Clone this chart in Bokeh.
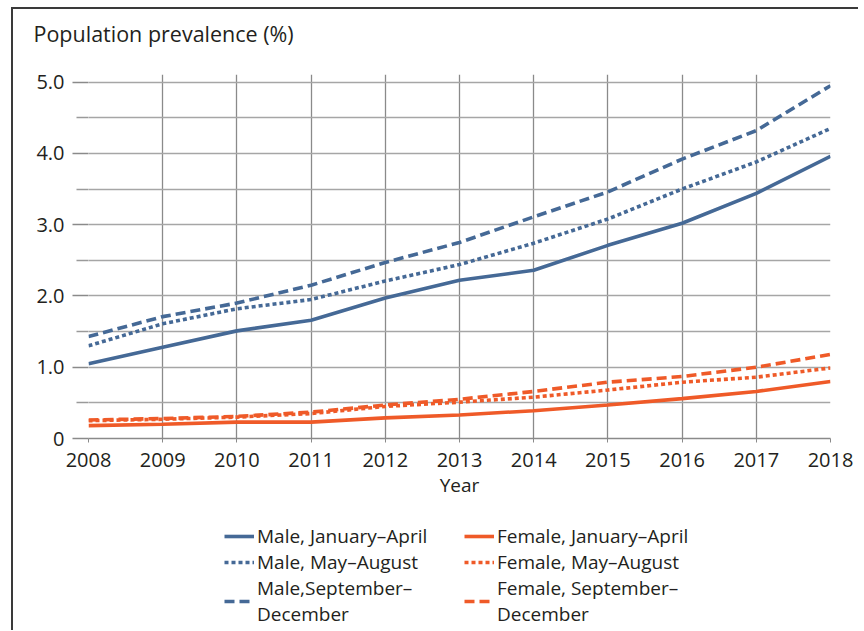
from bokeh.plotting import figure
from bokeh.layouts import column
from bokeh.models import FixedTicker, Range1d, Legend, LegendItem, PrintfTickFormatter
from bokeh.embed import file_html
from bokeh.resources import INLINE

years = list(range(2008, 2019))
male_jan_apr = [1.05, 1.28, 1.51, 1.66, 1.97, 2.22, 2.36, 2.71, 3.02, 3.44, 3.96]
male_may_aug = [1.30, 1.61, 1.82, 1.95, 2.21, 2.44, 2.74, 3.08, 3.50, 3.88, 4.35]
male_sep_dec = [1.43, 1.71, 1.90, 2.15, 2.47, 2.75, 3.11, 3.46, 3.92, 4.32, 4.95]
female_jan_apr = [0.18, 0.20, 0.23, 0.23, 0.29, 0.33, 0.39, 0.47, 0.56, 0.66, 0.80]
female_may_aug = [0.25, 0.27, 0.30, 0.35, 0.45, 0.51, 0.58, 0.68, 0.79, 0.86, 0.99]
female_sep_dec = [0.26, 0.28, 0.31, 0.37, 0.47, 0.55, 0.66, 0.79, 0.87, 1.00, 1.18]
y_ticks = [0, 1, 2, 3, 4, 5]
y_minor = [0.5, 1.5, 2.5, 3.5, 4.5]

labels = ["Male, January\u2013April", "Male, May\u2013August", "Male,September\u2013\nDecember",
          "Female, January\u2013April", "Female, May\u2013August", "Female, September\u2013\nDecember"]
dashes = ["solid", "4 3", "10 5", "solid", "4 3", "10 5"]

BLUE = "#456996"
ORANGE = "#ef5a28"
colors = [BLUE, BLUE, BLUE, ORANGE, ORANGE, ORANGE]
FONT = "Open Sans"
TXT = "#231f20"
LW = 3.6

# title strip
p0 = figure(width=845, height=46, output_backend="svg", toolbar_location=None,
            x_range=Range1d(0, 1), y_range=Range1d(0, 1), x_axis_type=None, y_axis_type=None,
            min_border_left=75, min_border_right=28, min_border_top=45, min_border_bottom=0)
p0.outline_line_color = None
p0.grid.visible = False
p0.title.text = "Population prevalence (%)"
p0.title.align = "left"
p0.title.vertical_align = "bottom"
p0.title.offset = -55
p0.title.standoff = 14
p0.title.text_font = FONT
p0.title.text_font_size = "21.5px"
p0.title.text_font_style = "normal"
p0.title.text_color = TXT

p = figure(width=845, height=455, output_backend="svg", toolbar_location=None,
           x_range=Range1d(2008, 2018), y_range=Range1d(0, 5.107),
           min_border_left=75, min_border_right=28, min_border_top=19, min_border_bottom=72)
p.outline_line_color = None
p.background_fill_color = "white"
p.title.text = ""

# axes
p.xaxis.ticker = FixedTicker(ticks=years)
p.xaxis.axis_label = "Year"
p.xaxis.axis_label_text_font = FONT
p.xaxis.axis_label_text_font_size = "19px"
p.xaxis.axis_label_text_font_style = "normal"
p.xaxis.axis_label_text_color = TXT
p.xaxis.axis_label_standoff = 2
p.xaxis.major_label_text_font = FONT
p.xaxis.major_label_text_font_size = "20px"
p.xaxis.major_label_text_color = TXT
p.xaxis.major_label_standoff = 10
p.xaxis.axis_line_color = "#8a8a8a"
p.xaxis.axis_line_width = 1.5
p.xaxis.major_tick_line_color = "#8a8a8a"
p.xaxis.major_tick_in = 0
p.xaxis.major_tick_out = 4
p.xaxis.minor_tick_line_color = None

p.yaxis.ticker = FixedTicker(ticks=y_ticks, minor_ticks=y_minor)
p.yaxis.formatter = PrintfTickFormatter(format="%.1f")
p.yaxis.major_label_overrides = {0: "0"}
p.yaxis.major_label_text_font = FONT
p.yaxis.major_label_text_font_size = "20px"
p.yaxis.major_label_text_color = TXT
p.yaxis.major_label_standoff = 8
p.yaxis.axis_line_color = None
p.yaxis.major_tick_line_color = "#8a8a8a"
p.yaxis.major_tick_line_width = 1.5
p.yaxis.major_tick_in = 0
p.yaxis.major_tick_out = 16
p.yaxis.minor_tick_line_color = "#9a9a9a"
p.yaxis.minor_tick_line_width = 1.5
p.yaxis.minor_tick_in = 0
p.yaxis.minor_tick_out = 12

p.xgrid.grid_line_color = "#8a8a8a"
p.xgrid.grid_line_width = 1.3
p.ygrid.grid_line_color = "#a6a6a6"
p.ygrid.grid_line_width = 1.5
p.ygrid.minor_grid_line_color = "#a6a6a6"
p.ygrid.minor_grid_line_width = 1.5

series = [male_jan_apr, male_may_aug, male_sep_dec, female_jan_apr, female_may_aug, female_sep_dec]
for vals, c, d in zip(series, colors, dashes):
    p.line(years, vals, line_color=c, line_width=LW, line_dash=d)

# legend panel (separate figure below the chart; its key lines use the same data but lie out of view)
p2 = figure(width=845, height=120, output_backend="svg", toolbar_location=None,
            x_range=Range1d(0, 1), y_range=Range1d(0, 1), x_axis_type=None, y_axis_type=None,
            min_border_left=75, min_border_right=28, min_border_top=0, min_border_bottom=0)
p2.outline_line_color = None
p2.grid.visible = False
keys = [p2.line(years, vals, line_color=c, line_width=LW, line_dash=d)
        for vals, c, d in zip(series, colors, dashes)]
legend = Legend(items=[LegendItem(label=l, renderers=[r]) for l, r in zip(labels, keys)],
                location=(136, 3), ncols=2, orientation="vertical",
                margin=0, padding=0, spacing=0, label_height=20, glyph_height=22, glyph_width=30,
                label_standoff=3, label_width=207, border_line_color=None,
                background_fill_alpha=0, label_text_line_height=1.43,
                label_text_font=FONT, label_text_font_size="19px", label_text_color=TXT)
p2.add_layout(legend, "center")

layout = column(p0, p, p2, spacing=0)
layout.styles = {"border-top": "2px solid #3a3a3a", "border-left": "2px solid #3a3a3a",
                 "margin-left": "11px", "margin-top": "7px"}

open("out.html", "w").write(file_html(layout, INLINE))
